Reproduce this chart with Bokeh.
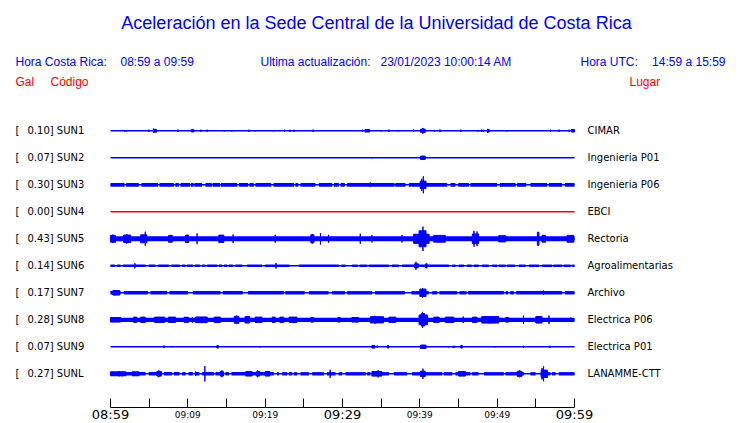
from bokeh.plotting import figure
from bokeh.models import LinearAxis, FixedTicker, Range1d, CustomJSTickFormatter
from bokeh.embed import file_html
from bokeh.resources import INLINE
from bokeh.core.properties import value
import json

# ---------------- data ----------------
TITLE = "Aceleración en la Sede Central de la Universidad de Costa Rica"
HORA_CR_LABEL = "Hora Costa Rica:"
HORA_CR = "08:59 a 09:59"
UPDATE_LABEL = "Ultima actualización:"
UPDATED = "23/01/2023 10:00:14 AM"
HORA_UTC_LABEL = "Hora UTC:"
HORA_UTC = "14:59 a 15:59"
HEAD_LEFT = ["Gal", "Código"]
HEAD_RIGHT = "Lugar"

CODES = ["SUN1", "SUN2", "SUN3", "SUN4", "SUN5", "SUN6", "SUN7", "SUN8", "SUN9", "SUNL"]
MAX_GAL = [0.10, 0.07, 0.30, 0.00, 0.43, 0.14, 0.17, 0.28, 0.07, 0.27]
PLACES = ["CIMAR", "Ingenieria P01", "Ingenieria P06", "EBCI", "Rectoria",
          "Agroalimentarias", "Archivo", "Electrica P06", "Electrica P01", "LANAMME-CTT"]

# minutes after 08:59
TICK_TIMES = [0, 10, 20, 30, 40, 50, 60]
TICK_LABELS = ["08:59", "09:09", "09:19", "09:29", "09:39", "09:49", "09:59"]
MINOR_TICK_TIMES = [5, 15, 25, 35, 45, 55]
WINDOW_MIN = [0, 60]

# continuous noise band half-amplitude (Gal) for each trace
BAND_GAL = [0.0, 0.0, 0.065, 0.0, 0.09, 0.045, 0.06, 0.075, 0.0, 0.06]

# quiet stretches (minutes) where the noise band drops to the bare line
SUN3_GAPS = [(1.81, 2.03), (3.66, 4.0), (6.16, 6.34), (8.19, 8.4), (8.84, 9.05), (10.3, 10.4),
             (10.74, 10.84), (11.85, 12.28), (13.1, 13.2), (14.17, 14.27), (16.38, 16.6),
             (17.8, 17.97), (18.53, 18.75), (20.78, 21.08), (23.75, 23.92), (24.27, 24.57),
             (26.5, 26.94), (28.66, 28.88), (29.53, 29.74), (30.3, 30.6), (36.72, 36.82),
             (38.15, 38.58), (43.53, 43.97), (44.6, 44.96), (46.34, 46.55), (50.0, 50.34),
             (52.37, 52.59), (53.75, 54.3), (56.47, 56.68), (58.4, 58.75)]
SUN6_GAPS = [(0.56, 0.86), (1.29, 1.6), (4.53, 4.96), (5.82, 6.16), (7.54, 7.89), (8.97, 9.27),
             (9.7, 9.91), (10.65, 10.9), (11.55, 11.85), (12.28, 12.5), (13.79, 14.0),
             (14.44, 14.7), (15.09, 15.3), (15.82, 16.16), (17.03, 17.67), (19.6, 19.96),
             (23.15, 24.35), (29.53, 29.87), (30.4, 31.25), (31.98, 32.2), (33.2, 33.4),
             (36.0, 36.4), (37.3, 37.7), (43.75, 44.2), (44.6, 45.04), (45.7, 46.1),
             (46.7, 46.98), (47.6, 48.06), (48.9, 49.35), (50.0, 50.2), (51.08, 51.3),
             (52.3, 52.8), (53.66, 54.1), (55.4, 55.8), (57.1, 57.3), (58.4, 58.6), (59.5, 59.7)]
SUN7_GAPS = [(1.29, 1.72), (4.83, 5.17), (7.33, 7.63), (10.04, 10.65), (14.22, 14.53),
             (17.1, 17.8), (22.4, 22.6), (25.1, 25.65), (28.2, 28.66), (30.3, 30.6),
             (33.84, 34.2), (38.06, 38.92), (41.16, 41.6), (42.24, 42.54), (44.83, 45.13),
             (46.03, 46.25), (50.86, 51.08), (51.42, 51.68), (52.16, 52.46), (58.4, 58.75)]
SUNL_GAPS = [(4.53, 4.96), (6.47, 6.9), (7.97, 8.19), (8.92, 9.27), (9.7, 10.1), (10.65, 10.9),
             (11.5, 11.85), (13.36, 13.58), (14.65, 14.87), (15.3, 15.65), (21.1, 21.55),
             (21.77, 22.2), (22.84, 23.06), (23.5, 23.7), (24.14, 24.57), (25.65, 26.08),
             (27.6, 28.0), (29.1, 29.5), (29.96, 30.4), (33.0, 33.2), (33.6, 33.84),
             (36.0, 36.64), (38.36, 39.0), (42.9, 43.1), (44.2, 44.6), (46.55, 46.77),
             (47.6, 48.3), (50.86, 51.08), (53.45, 54.3), (54.96, 55.6), (56.9, 57.1),
             (57.55, 57.97)]
GAPS = [[], [], SUN3_GAPS, [], [], SUN6_GAPS, SUN7_GAPS, [], [], SUNL_GAPS]

# bursts: (start minute, end minute, half-amplitude in Gal)
SUN1_BURSTS = [(1.85, 1.85, 0.03), (2.07, 2.07, 0.03), (4.96, 4.96, 0.04), (5.55, 5.55, 0.08),
               (5.6, 5.95, 0.05), (8.7, 8.7, 0.04), (10.45, 10.8, 0.04), (11.7, 11.7, 0.04),
               (12.5, 12.5, 0.04), (14.7, 14.7, 0.025), (15.7, 15.7, 0.025), (17.9, 17.9, 0.04),
               (18.7, 18.7, 0.025), (21.1, 21.1, 0.025), (22.5, 22.5, 0.04), (23.2, 23.2, 0.04),
               (23.75, 23.75, 0.04), (26.2, 26.2, 0.04), (32.6, 32.6, 0.04), (32.9, 33.5, 0.045),
               (35.0, 35.0, 0.025), (36.0, 36.0, 0.04), (37.2, 37.2, 0.025), (39.2, 39.2, 0.04),
               (40.1, 40.7, 0.06), (40.4, 40.4, 0.10), (41.9, 41.9, 0.03), (42.6, 42.6, 0.045),
               (45.3, 45.3, 0.04), (47.5, 47.5, 0.03), (48.0, 48.0, 0.04), (48.2, 48.2, 0.04),
               (48.7, 49.0, 0.04), (48.8, 48.8, 0.07), (51.25, 51.25, 0.025), (56.9, 56.9, 0.04),
               (58.0, 58.0, 0.04), (59.3, 59.3, 0.04), (59.6, 60.0, 0.045)]
SUN2_BURSTS = [(33.75, 33.75, 0.02), (40.1, 40.7, 0.06), (40.4, 40.4, 0.07)]
SUN3_BURSTS = [(33.6, 33.6, 0.08), (40.05, 40.8, 0.13), (40.25, 40.25, 0.21), (40.45, 40.45, 0.30)]
SUN4_BURSTS = []
SUN5_BURSTS = [(0.0, 0.65, 0.12), (0.3, 0.3, 0.15), (1.7, 2.6, 0.13), (2.1, 2.1, 0.17),
               (3.9, 4.7, 0.14), (4.5, 4.5, 0.25), (7.5, 8.0, 0.12), (9.7, 10.1, 0.13),
               (11.2, 11.2, 0.19), (14.0, 14.65, 0.13), (15.85, 15.85, 0.15), (21.3, 21.3, 0.14),
               (25.9, 26.3, 0.14), (26.1, 26.1, 0.17), (27.15, 27.15, 0.2), (28.2, 28.2, 0.14),
               (32.3, 32.3, 0.18), (33.8, 33.8, 0.13), (37.7, 37.7, 0.13), (39.2, 41.2, 0.16),
               (39.9, 40.8, 0.28), (40.4, 40.4, 0.43), (41.8, 43.3, 0.12), (46.8, 47.6, 0.17),
               (47.0, 47.0, 0.28), (47.4, 47.4, 0.26), (50.2, 51.1, 0.11), (55.2, 55.4, 0.23),
               (55.8, 56.25, 0.12), (59.05, 59.9, 0.12)]
SUN6_BURSTS = [(3.15, 3.15, 0.09), (21.4, 21.4, 0.10), (39.3, 39.8, 0.07), (39.5, 39.5, 0.14),
               (40.7, 40.9, 0.06), (40.9, 40.9, 0.09)]
SUN7_BURSTS = [(0.3, 1.2, 0.08), (0.6, 0.6, 0.09), (40.0, 40.8, 0.13), (40.35, 40.35, 0.17),
               (56.0, 56.0, 0.08)]
SUN8_BURSTS = [(0.0, 1.3, 0.08), (3.0, 3.4, 0.095), (3.9, 4.5, 0.095), (5.7, 7.0, 0.095),
               (7.5, 8.4, 0.095), (9.5, 10.1, 0.09), (10.6, 10.6, 0.1), (11.0, 12.5, 0.1),
               (13.4, 14.2, 0.095), (16.0, 16.6, 0.12), (16.3, 16.3, 0.15), (17.4, 18.0, 0.115),
               (18.7, 19.6, 0.095), (20.9, 21.3, 0.095), (21.9, 22.4, 0.095), (23.1, 24.1, 0.095),
               (25.9, 26.3, 0.08), (29.4, 29.7, 0.08), (31.2, 32.1, 0.08), (33.6, 35.3, 0.11),
               (34.2, 34.2, 0.14), (36.0, 36.9, 0.095), (39.9, 41.0, 0.17), (40.2, 40.6, 0.22),
               (40.35, 40.35, 0.28), (41.8, 42.5, 0.095), (43.3, 44.4, 0.095), (45.6, 45.6, 0.115),
               (46.8, 47.4, 0.095), (48.0, 50.2, 0.115), (49.0, 49.0, 0.13), (51.1, 51.5, 0.08),
               (53.4, 53.4, 0.15), (55.0, 55.8, 0.115), (56.7, 56.7, 0.15), (59.5, 59.5, 0.08)]
SUN9_BURSTS = [(6.9, 6.9, 0.045), (8.0, 8.0, 0.02), (13.75, 13.95, 0.045), (19.3, 19.3, 0.02),
               (33.8, 34.2, 0.045), (34.5, 34.5, 0.045), (35.8, 36.0, 0.045), (40.1, 40.8, 0.06),
               (40.4, 40.4, 0.07), (43.75, 43.75, 0.025), (44.3, 44.3, 0.035), (44.5, 44.5, 0.035),
               (45.3, 45.5, 0.045), (49.7, 49.7, 0.02), (53.4, 53.4, 0.035), (56.8, 56.8, 0.035)]
SUNL_BURSTS = [(0.0, 2.0, 0.07), (1.1, 1.1, 0.09), (1.5, 1.5, 0.09), (2.8, 3.7, 0.07),
               (6.0, 6.6, 0.08), (6.25, 6.25, 0.12), (11.0, 11.0, 0.08), (12.2, 12.2, 0.27),
               (14.2, 14.6, 0.08), (14.4, 14.4, 0.12), (17.5, 18.3, 0.08), (18.9, 19.3, 0.08),
               (19.0, 19.0, 0.12), (20.0, 20.6, 0.08), (28.4, 28.4, 0.14), (33.8, 35.1, 0.08),
               (34.6, 34.6, 0.13), (40.1, 40.7, 0.095), (40.4, 40.4, 0.18), (45.0, 45.9, 0.08),
               (52.6, 53.2, 0.09), (52.9, 52.9, 0.12), (55.7, 56.5, 0.13), (55.8, 55.8, 0.2),
               (56.0, 56.0, 0.26)]
BURSTS = [SUN1_BURSTS, SUN2_BURSTS, SUN3_BURSTS, SUN4_BURSTS, SUN5_BURSTS,
          SUN6_BURSTS, SUN7_BURSTS, SUN8_BURSTS, SUN9_BURSTS, SUNL_BURSTS]

# ---------------- layout / style ----------------
BLUE = "#0000ff"
RED = "#ff0000"
TRACE_COLORS = [BLUE, BLUE, BLUE, RED, BLUE, BLUE, BLUE, BLUE, BLUE, BLUE]

W, H = 740, 423
X0 = 110.0               # px of minute 0
PXM = 464.0 / 60.0       # px per minute
ROW_GAL = 0.95           # vertical spacing between traces, in Gal
K = 27.0 / ROW_GAL       # px per Gal
Y0 = 130.3               # px of first trace baseline


def dx(px):
    return (px - X0) / PXM


def dy(py):
    return (Y0 - py) / K


p = figure(width=W, height=H, output_backend="svg", toolbar_location=None,
           x_axis_type=None, y_axis_type=None,
           x_range=Range1d(-X0 / PXM, (W - X0) / PXM),
           y_range=Range1d(-(H - Y0) / K, Y0 / K),
           min_border_left=0, min_border_right=0, min_border_top=0, min_border_bottom=0)
p.outline_line_color = None
p.grid.visible = False
p.background_fill_color = "white"
p.border_fill_color = "white"

# baselines
base = [-i * ROW_GAL for i in range(len(CODES))]
p.segment(x0=[WINDOW_MIN[0]] * len(CODES), x1=[WINDOW_MIN[1]] * len(CODES), y0=base, y1=base,
          line_color=TRACE_COLORS, line_width=1.4)

# noise bands
bl, br, bb, bt, bc = [], [], [], [], []
for i, amp in enumerate(BAND_GAL):
    if amp <= 0:
        continue
    prev = WINDOW_MIN[0]
    for g0, g1 in GAPS[i] + [(WINDOW_MIN[1], WINDOW_MIN[1])]:
        if g0 > prev:
            bl.append(prev); br.append(g0)
            bb.append(base[i] - amp); bt.append(base[i] + amp)
            bc.append(TRACE_COLORS[i])
        prev = g1
p.quad(left=bl, right=br, bottom=bb, top=bt, fill_color=bc, line_color=None)

# bursts / spikes
ql, qr, qb, qt, qc = [], [], [], [], []
for i, bursts in enumerate(BURSTS):
    for t0, t1, amp in bursts:
        ql.append(t0); qr.append(t1)
        qb.append(base[i] - amp); qt.append(base[i] + amp)
        qc.append(TRACE_COLORS[i])
p.quad(left=ql, right=qr, bottom=qb, top=qt, fill_color=qc, line_color=qc, line_width=1)

# trace labels
lab_font = value("DejaVu Sans")
p.text(x=[dx(15)] * len(CODES), y=base, text=["["] * len(CODES), text_font=lab_font,
       text_font_size="10px", text_color="black", text_align="left", text_baseline="middle")
p.text(x=[dx(27)] * len(CODES), y=base, text=[f"{v:.2f}] {c}" for v, c in zip(MAX_GAL, CODES)],
       text_font=lab_font, text_font_size="10px", text_color="black",
       text_align="left", text_baseline="middle")
p.text(x=[dx(587)] * len(CODES), y=base, text=PLACES, text_font=lab_font,
       text_font_size="10px", text_color="black", text_align="left", text_baseline="middle")

# header
hf = value("Liberation Sans")
p.text(x=[dx(376)], y=[dy(22)], text=[TITLE], text_font=hf, text_font_size="18px",
       text_color=BLUE, text_align="center", text_baseline="middle")
p.text(x=[dx(15), dx(120), dx(260), dx(380), dx(580)], y=[dy(61)] * 5,
       text=[HORA_CR_LABEL, HORA_CR, UPDATE_LABEL, UPDATED, HORA_UTC_LABEL],
       text_font=hf, text_font_size="12px", text_color=BLUE,
       text_align="left", text_baseline="middle")
p.text(x=[dx(725)], y=[dy(61)], text=[HORA_UTC], text_font=hf, text_font_size="12px",
       text_color=BLUE, text_align="right", text_baseline="middle")
p.text(x=[dx(15), dx(50)], y=[dy(81)] * 2, text=HEAD_LEFT, text_font=hf, text_font_size="12px",
       text_color=RED, text_align="left", text_baseline="middle")
p.text(x=[dx(629)], y=[dy(81)], text=[HEAD_RIGHT], text_font=hf, text_font_size="12px",
       text_color=RED, text_align="left", text_baseline="middle")

# time axis (drawn at a fixed data location inside the frame)
big_idx = [0, 3, 6]
small_map = {str(t): l for k, (t, l) in enumerate(zip(TICK_TIMES, TICK_LABELS)) if k not in big_idx}
fmt = CustomJSTickFormatter(code="const m = %s; const s = String(tick); return (s in m) ? m[s] : '';"
                            % json.dumps(small_map))
ax = LinearAxis(ticker=FixedTicker(ticks=sorted(TICK_TIMES + MINOR_TICK_TIMES), minor_ticks=[]),
                formatter=fmt, bounds=(WINDOW_MIN[0], WINDOW_MIN[1]), fixed_location=dy(407),
                major_tick_in=9, major_tick_out=0, minor_tick_in=0, minor_tick_out=0,
                major_label_standoff=2, major_label_text_font="DejaVu Sans",
                major_label_text_font_size="9px", major_label_text_color="black",
                axis_line_color="black", major_tick_line_color="black")
p.add_layout(ax, "below")

p.text(x=[TICK_TIMES[k] for k in big_idx], y=[dy(414)] * len(big_idx),
       text=[TICK_LABELS[k] for k in big_idx], text_font=lab_font, text_font_size="13px",
       text_color="black", text_align="center", text_baseline="middle")

open("out.html", "w").write(file_html(p, INLINE))
